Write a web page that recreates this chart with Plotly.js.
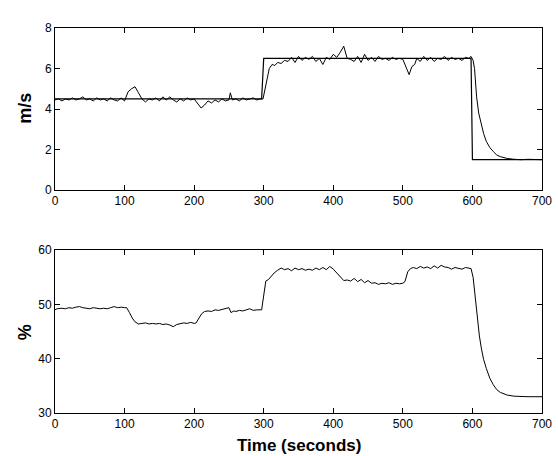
<!DOCTYPE html>
<html>
<head>
<meta charset="utf-8">
<script src="https://cdn.plot.ly/plotly-3.0.1.min.js"></script>
<style>html,body{margin:0;padding:0;background:#fff;}#chart{width:558px;height:456px;}</style>
</head>
<body>
<div id="chart"></div>
<script>
// Top panel: wind speed setpoint and measured (m/s)
const setpointTime = [0, 297, 300, 598, 600, 700];
const setpointSpeed = [4.5, 4.5, 6.5, 6.5, 1.5, 1.5];

const speedTime = [0,5,10,15,20,25,30,35,40,45,50,55,60,65,70,75,80,85,90,95,100,105,110,115,120,125,130,135,140,145,150,155,160,165,170,175,180,185,190,195,200,205,210,215,220,225,230,235,240,245,250,252,255,260,265,270,275,280,285,290,295,299,302,305,308,312,316,320,325,330,335,340,345,350,355,360,365,370,375,380,385,390,395,400,405,410,415,420,425,430,435,440,445,450,455,460,465,470,475,480,485,490,495,500,505,509,513,517,520,525,530,535,540,545,550,555,560,565,570,575,580,585,590,595,598,601,603,606,609,612,616,620,625,630,635,640,645,650,660,670,680,690,700];
const speedValue = [4.45,4.5,4.4,4.5,4.45,4.55,4.45,4.5,4.6,4.45,4.5,4.4,4.55,4.45,4.5,4.4,4.55,4.45,4.4,4.55,4.4,4.85,5.0,5.1,4.8,4.5,4.35,4.5,4.45,4.55,4.4,4.6,4.45,4.6,4.45,4.35,4.5,4.4,4.55,4.45,4.5,4.25,4.05,4.2,4.4,4.3,4.45,4.35,4.5,4.4,4.45,4.8,4.45,4.5,4.4,4.55,4.45,4.5,4.55,4.45,4.5,4.5,5.0,5.6,6.0,6.2,6.15,6.3,6.25,6.4,6.35,6.55,6.3,6.6,6.4,6.55,6.45,6.6,6.35,6.5,6.2,6.55,6.45,6.7,6.55,6.8,7.1,6.5,6.45,6.35,6.6,6.3,6.7,6.4,6.55,6.35,6.6,6.45,6.5,6.4,6.55,6.45,6.5,6.45,6.0,5.7,6.1,6.2,6.5,6.35,6.6,6.4,6.55,6.35,6.5,6.45,6.6,6.4,6.55,6.45,6.5,6.4,6.55,6.5,6.6,6.4,6.0,4.6,3.8,3.3,2.8,2.4,2.1,1.9,1.73,1.65,1.6,1.56,1.52,1.5,1.52,1.5,1.5];

// Bottom panel: percentage
const pctTime = [0,3,10,15,20,25,30,35,40,45,50,55,60,65,70,75,80,85,90,95,100,103,107,111,115,120,125,130,135,140,145,150,155,160,165,170,175,180,185,190,195,200,203,207,211,215,220,225,230,235,240,245,250,253,257,260,265,270,275,280,285,290,297,300,303,307,311,315,320,325,330,335,340,345,350,355,360,365,370,375,380,385,390,395,400,405,410,415,420,425,430,435,440,445,450,455,460,465,470,475,480,485,490,495,500,503,507,511,515,520,525,530,535,540,545,550,555,560,565,570,575,580,585,590,595,598,601,604,607,610,613,616,620,625,630,635,640,645,650,660,670,680,690,700];
const pctValue = [49.0,49.2,49.3,49.2,49.4,49.3,49.5,49.6,49.4,49.3,49.2,49.4,49.3,49.2,49.3,49.2,49.4,49.6,49.4,49.5,49.4,49.4,48.5,47.5,46.8,46.4,46.5,46.6,46.4,46.5,46.4,46.5,46.3,46.4,46.2,45.9,46.3,46.4,46.6,46.5,46.7,46.5,46.6,47.5,48.3,48.7,48.8,48.7,49.0,48.9,49.1,49.3,49.4,48.5,48.8,48.7,48.9,48.8,49.0,49.2,48.9,49.0,49.0,51.5,54.3,54.6,55.3,55.8,56.3,56.7,56.4,56.6,56.2,56.7,56.4,56.6,56.3,56.5,56.3,56.7,56.4,56.8,56.4,57.0,56.5,55.8,55.0,54.4,54.5,54.3,54.8,54.2,54.6,54.0,54.4,53.9,54.0,53.7,53.9,53.8,54.0,53.7,53.9,53.8,53.9,54.2,56.0,56.6,56.8,56.6,57.0,56.7,56.9,56.6,57.1,56.7,57.2,56.9,56.8,56.5,56.8,56.6,56.5,56.8,56.6,56.6,55.0,51.0,47.2,44.2,41.8,39.9,38.2,36.4,35.2,34.3,33.8,33.5,33.3,33.1,33.0,33.0,33.0,33.0];

const xTicks = [0,100,200,300,400,500,600,700];
const topTicks = [0,2,4,6,8];
const bottomTicks = [30,40,50,60];

const tickFont = {family: '"Liberation Sans Narrow", Arial, sans-serif', size: 12, color: '#000'};
const axisCommon = {
  showline: true, mirror: 'ticks', linecolor: '#000', linewidth: 1,
  ticks: 'inside', ticklen: 5, tickcolor: '#000', tickwidth: 1,
  showgrid: false, zeroline: false, tickfont: tickFont, fixedrange: true
};

const traces = [
  {x: setpointTime, y: setpointSpeed, xaxis: 'x', yaxis: 'y', mode: 'lines', line: {color: '#000', width: 1.2}, hoverinfo: 'skip'},
  {x: speedTime, y: speedValue, xaxis: 'x', yaxis: 'y', mode: 'lines', line: {color: '#000', width: 1}, hoverinfo: 'skip'},
  {x: pctTime, y: pctValue, xaxis: 'x2', yaxis: 'y2', mode: 'lines', line: {color: '#000', width: 1}, hoverinfo: 'skip'}
];

const labelFont = {family: 'Arial, "Liberation Sans", sans-serif', size: 18, color: '#000', weight: 'bold'};
const xLabelFont = {family: 'Arial, "Liberation Sans", sans-serif', size: 17, color: '#000', weight: 'bold'};

const layout = {
  width: 558, height: 456,
  margin: {l: 55, r: 16, t: 28, b: 43},
  paper_bgcolor: '#fff', plot_bgcolor: '#fff',
  showlegend: false,
  xaxis: Object.assign({}, axisCommon, {domain: [0, 1], range: [0, 700], tickvals: xTicks, anchor: 'y'}),
  yaxis: Object.assign({}, axisCommon, {domain: [0.579, 1], range: [0, 8], tickvals: topTicks, anchor: 'x'}),
  xaxis2: Object.assign({}, axisCommon, {domain: [0, 1], range: [0, 700], tickvals: xTicks, anchor: 'y2'}),
  yaxis2: Object.assign({}, axisCommon, {domain: [0, 0.423], range: [30, 60], tickvals: bottomTicks, anchor: 'x2'}),
  annotations: [
    {text: '<b>m/s</b>', xref: 'paper', yref: 'paper', x: 0, y: 0.79, xshift: -30, xanchor: 'center', yanchor: 'middle', textangle: -90, showarrow: false, font: labelFont},
    {text: '<b>%</b>', xref: 'paper', yref: 'paper', x: 0, y: 0.21, xshift: -30, xanchor: 'center', yanchor: 'middle', textangle: -90, showarrow: false, font: labelFont},
    {text: '<b>Time (seconds)</b>', xref: 'paper', yref: 'paper', x: 0.5, y: 0, yshift: -32, xanchor: 'center', yanchor: 'middle', showarrow: false, font: xLabelFont}
  ]
};

Plotly.newPlot('chart', traces, layout, {displayModeBar: false, staticPlot: true});
</script>
</body>
</html>
